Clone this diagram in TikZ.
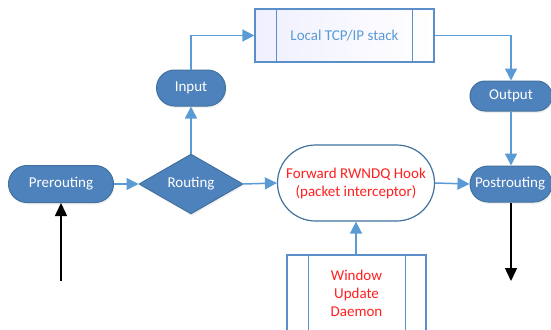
\documentclass[tikz,border=0pt]{standalone}
\usepackage{fontspec}
\setmainfont{Carlito}
\usetikzlibrary{shapes.misc,shapes.geometric,arrows.meta,calc,shadows}
\definecolor{fillb}{HTML}{4E82BC}
\definecolor{edgeb}{HTML}{41719C}
\definecolor{lineb}{HTML}{5B9BD5}
\definecolor{boxb}{HTML}{5B8FC9}
\definecolor{txtb}{HTML}{5B9BD5}
\definecolor{redt}{HTML}{FF1F1F}
\tikzset{
  x=1pt, y=-1pt,
  every node/.style={font=\fontsize{15}{18}\selectfont},
  stad/.style={rounded rectangle, draw=edgeb, fill=fillb, line width=1pt, text=white,
    inner sep=0pt, drop shadow={opacity=0.12, shadow xshift=1pt, shadow yshift=-2pt}},
  diam/.style={diamond, draw=edgeb, fill=fillb, line width=1pt, text=white, inner sep=0pt,
    drop shadow={opacity=0.12, shadow xshift=1pt, shadow yshift=-2pt}},
  procbox/.style={rectangle, draw=boxb, line width=1.2pt, inner sep=0pt},
  conn/.style={draw=lineb, line width=1.5pt, -{Triangle[length=12pt,width=12pt]}},
  blk/.style={draw=black, line width=1.5pt, -{Triangle[length=13pt,width=12pt]}},
}
\begin{document}
\begin{tikzpicture}
\useasboundingbox (0,0) rectangle (551,329);
\clip (0,0) rectangle (551,329);
\node[stad, minimum width=105pt, minimum height=37pt] (pre) at (61,184) {Prerouting};
\node[diam, minimum width=104pt, minimum height=53pt] (rout) at (191,184) {Routing};
\node[stad, minimum width=69pt, minimum height=36pt] (input) at (191,88) {Input};
\node[procbox, minimum width=179pt, minimum height=53pt, left color=blue!6, right color=white] (tcp) at (344.5,35.5) {};
\node[text=txtb] at (tcp.center) {Local TCP/IP stack};
\draw[draw=boxb, line width=1.2pt] ($(tcp.north west)+(22,0)$) -- ($(tcp.south west)+(22,0)$);
\draw[draw=boxb, line width=1.2pt] ($(tcp.north east)+(-22,0)$) -- ($(tcp.south east)+(-22,0)$);
\node[stad, minimum width=82pt, minimum height=30pt] (output) at (511,96) {Output};
\node[stad, minimum width=82pt, minimum height=36pt, text width=72pt] (post) at (511,184) {Postrouting};
\node[rounded rectangle, draw=edgeb, fill=white, line width=1.2pt, minimum width=157pt, minimum height=76pt,
  text=redt, align=center, inner sep=0pt] (fwd) at (356,183) {Forward RWNDQ Hook\\(packet interceptor)};
\node[procbox, fill=white, minimum width=139pt, minimum height=86pt] (win) at (356.5,298) {};
\node[text=redt, align=center, font=\fontsize{15}{18}\selectfont] at (356.5,293) {Window\\Update\\Daemon};
\draw[draw=boxb, line width=1.2pt] ($(win.north west)+(22,0)$) -- ($(win.south west)+(22,0)$);
\draw[draw=boxb, line width=1.2pt] ($(win.north east)+(-21,0)$) -- ($(win.south east)+(-21,0)$);
\path[conn] (pre.east) -- (rout.west);
\path[conn] (rout.east) -- (fwd.west);
\path[conn] (fwd.east) -- (post.west);
\path[conn] (rout.north) -- (input.south);
\path[conn] (input.north) |- (tcp.west);
\path[conn] (tcp.east) -| (output.north);
\path[conn] (output.south) -- (post.north);
\path[conn] (win.north -| fwd.south) -- (fwd.south);
\coordinate (bin) at (61,281);
\coordinate (bout) at (511,281);
\path[blk] (bin) -- (bin |- pre.south);
\path[blk] (post.south) -- (bout);
\end{tikzpicture}
\end{document}
